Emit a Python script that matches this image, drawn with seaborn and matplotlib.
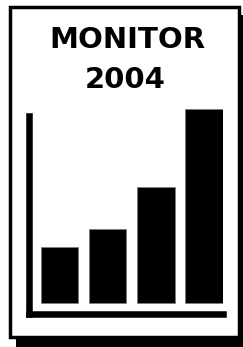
import matplotlib
matplotlib.use('Agg')
import matplotlib.pyplot as plt
from matplotlib.patches import Rectangle
import seaborn as sns

# Data
periods = ['Q1', 'Q2', 'Q3', 'Q4']
values = [56, 74, 116, 194]
title_lines = ['MONITOR', '2004']

W, H = 243, 347
sns.set_theme(style="white")
plt.rcParams['font.family'] = ['DejaVu Sans']

fig = plt.figure(figsize=(W / 100, H / 100), dpi=100)

# Background "page" drawn in pixel coordinates
bg = fig.add_axes([0, 0, 1, 1])
bg.set_xlim(0, W)
bg.set_ylim(H, 0)
bg.axis('off')
bg.add_patch(Rectangle((16, 15), 260, 360, facecolor='black', edgecolor='none'))
bg.add_patch(Rectangle((9.75, 6.75), 229.5, 330.5, facecolor='white',
                       edgecolor='black', linewidth=2.5))
bg.text(127, 47.5, title_lines[0], ha='center', va='baseline',
        fontsize=21, fontweight='bold', color='black')
bg.text(125, 87.5, title_lines[1], ha='center', va='baseline',
        fontsize=21, fontweight='bold', color='black')

# Chart area
x0, x1 = 29.3, 222.7
y_bot, y_top = 314.0, 109.3
ax = fig.add_axes([x0 / W, (H - y_bot) / H, (x1 - x0) / W, (y_bot - y_top) / H])
ax.patch.set_alpha(0)
sns.barplot(x=periods, y=values, color='black', saturation=1, width=0.784,
            edgecolor='#808080', linewidth=0.6, ax=ax)

step = 48.1
ax.set_xlim(-(59.5 - x0) / step, -(59.5 - x0) / step + (x1 - x0) / step)
ax.set_ylim(-10.7, 194)
ax.set_xticks([])
ax.set_yticks([])
ax.set_xlabel('')
ax.set_ylabel('')
for side in ['top', 'right']:
    ax.spines[side].set_visible(False)
for side in ['left', 'bottom']:
    ax.spines[side].set_color('black')
    ax.spines[side].set_linewidth(4.7)
ax.spines['left'].set_bounds(-10.7, 187.3)

fig.savefig('out.png', dpi=100)
